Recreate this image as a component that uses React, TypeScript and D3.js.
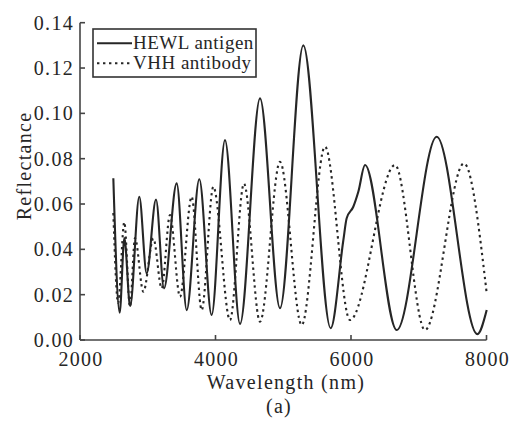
import React from 'react';
import * as d3 from 'd3';

// HEWL antigen (solid) - extrema
const hewlX = [2492, 2585, 2655, 2740, 2875, 2984, 3122, 3240, 3427, 3575, 3761, 3943, 4140, 4362, 4657, 4952, 5296, 5700, 5887, 5936, 6034, 6108, 6207, 6675, 7265, 7865, 8003];
const hewlY = [0.0714, 0.012, 0.045, 0.015, 0.0632, 0.0294, 0.062, 0.0228, 0.0691, 0.0132, 0.0709, 0.011, 0.0882, 0.0071, 0.1066, 0.014, 0.13, 0.0052, 0.044, 0.0537, 0.0588, 0.0654, 0.0772, 0.0044, 0.0897, 0.0026, 0.0132];

// VHH antibody (dotted)
const vhhX = [2492, 2563, 2654, 2738, 2812, 2935, 3083, 3206, 3328, 3476, 3648, 3796, 3968, 4214, 4420, 4657, 4952, 5272, 5616, 5985, 6650, 7092, 7668, 8003];
const vhhY = [0.056, 0.0163, 0.052, 0.0147, 0.045, 0.0213, 0.0448, 0.0228, 0.0551, 0.0191, 0.0632, 0.0132, 0.0676, 0.0088, 0.069, 0.0081, 0.0786, 0.0066, 0.0853, 0.0088, 0.0772, 0.0044, 0.0779, 0.0206];

const xTicks = [2000, 4000, 6000, 8000];
const yTicks = [0, 0.02, 0.04, 0.06, 0.08, 0.1, 0.12, 0.14];

const series = [
  { name: 'HEWL antigen', xs: hewlX, ys: hewlY, dash: null },
  { name: 'VHH antibody', xs: vhhX, ys: vhhY, dash: '2.4,3.6' },
];

const serif = { fontFamily: '"Liberation Serif", "Times New Roman", serif' };
const ink = '#262626';

export default function App() {
  const width = 515;
  const height = 421;
  const x = d3.scaleLinear().domain([2000, 8000]).range([80, 486.5]);
  const y = d3.scaleLinear().domain([0, 0.14]).range([340, 22.7]);

  const pathFor = (xs: number[], ys: number[]) =>
    d3
      .line<[number, number]>()
      .x(d => x(d[0]))
      .y(d => y(d[1]))
      .curve(d3.curveMonotoneX)(xs.map((v, i) => [v, ys[i]]));

  return (
    <svg width={width} height={height} style={{ position: 'absolute', left: 0, top: 0, background: '#fff' }}>
      {/* curves */}
      {series.map(s => (
        <path
          key={s.name}
          d={pathFor(s.xs, s.ys) || ''}
          fill="none"
          stroke={ink}
          strokeWidth={2.1}
          strokeDasharray={s.dash || undefined}
        />
      ))}

      {/* axes */}
      <g stroke="#444" strokeWidth={1.6} fill="none">
        <line x1={x(2000)} x2={x(8000)} y1={y(0)} y2={y(0)} />
        <line x1={x(2000)} x2={x(2000)} y1={y(0)} y2={y(0.14)} />
        {xTicks.map(t => (
          <line key={t} x1={x(t)} x2={x(t)} y1={y(0)} y2={y(0) - 5} />
        ))}
        {yTicks.map(t => (
          <line key={t} x1={x(2000)} x2={x(2000) + 5} y1={y(t)} y2={y(t)} />
        ))}
      </g>

      <g fill={ink} style={{ ...serif, fontSize: 20, letterSpacing: 1.3 }}>
        {xTicks.map(t => (
          <text key={t} x={x(t) + 1} y={366} textAnchor="middle">
            {t}
          </text>
        ))}
        {yTicks.map(t => (
          <text key={t} x={74} y={y(t)} dy="0.35em" textAnchor="end">
            {d3.format('.2f')(t)}
          </text>
        ))}
        <text x={286} y={389} textAnchor="middle">
          Wavelength (nm)
        </text>
        <text x={279} y={413} textAnchor="middle">
          (a)
        </text>
        <text transform={`translate(31,166) rotate(-90)`} textAnchor="middle">
          Reflectance
        </text>
      </g>

      {/* legend */}
      <g>
        <rect x={93} y={29} width={163} height={48} fill="#fff" stroke="#333" strokeWidth={1.6} />
        {series.map((s, i) => (
          <g key={s.name} transform={`translate(0,${43.3 + i * 20})`}>
            <line
              x1={97}
              x2={132}
              y1={0}
              y2={0}
              stroke={ink}
              strokeWidth={2}
              strokeDasharray={s.dash || undefined}
            />
            <text x={133} y={6} fill={ink} style={{ ...serif, fontSize: 19, letterSpacing: 0.5 }}>
              {s.name}
            </text>
          </g>
        ))}
      </g>
    </svg>
  );
}
